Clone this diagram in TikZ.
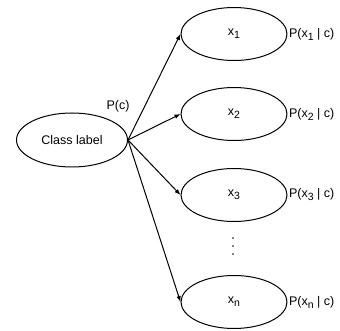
\documentclass[tikz,border=0pt]{standalone}
\usepackage{fontspec}
\setmainfont{Liberation Sans}
\usetikzlibrary{shapes.geometric,arrows.meta}

% lowered index, a bit larger than \textsubscript
\newcommand{\idx}[1]{\raisebox{-0.45ex}{\fontsize{10.5}{12}\selectfont #1}}

\begin{document}
\begin{tikzpicture}[
       x=1pt, y=-1pt,
       line width=1pt,
       font=\fontsize{12.5}{14}\selectfont,
       feature/.style={
         ellipse,
         draw,
         inner sep=0pt,
         minimum width=106pt,
         minimum height=53pt
       },
       prob/.style={
         label={[inner sep=1pt]right:#1}
       },
       dot/.style={
         circle,
         fill=black,
         inner sep=0pt,
         minimum size=1.6pt
       }
     ]
       \useasboundingbox (0,0) rectangle (340,331);

       \node (c) at (72,140) [feature,minimum width=111pt,minimum height=54pt]{Class label};
       \node (pc) at (118,106) {P(c)};

       \node (x1) at (234,34) [feature,prob={P(x\idx{1} | c)}]{x\idx{1}};
       \node (x2) at (234,114) [feature,prob={P(x\idx{2} | c)}]{x\idx{2}};
       \node (x3) at (234,195) [feature,prob={P(x\idx{3} | c)}]{x\idx{3}};
       \node (xn) at (234,302) [feature,prob={P(x\idx{n} | c)}]{x\idx{n}};

       % vertical dots between x3 and xn
       \foreach \y/\n in {238/1,246/2,254/3}
         \node (d\n) at (233,\y) [dot]{};

       \draw[-{Latex[length=6pt,width=4.5pt]}] (c.east) -- (x1.west);
       \draw[-{Latex[length=6pt,width=4.5pt]}] (c.east) -- (x2.west);
       \draw[-{Latex[length=6pt,width=4.5pt]}] (c.east) -- (x3.west);
       \draw[-{Latex[length=6pt,width=4.5pt]}] (c.east) -- (xn.west);

\end{tikzpicture}
\end{document}
